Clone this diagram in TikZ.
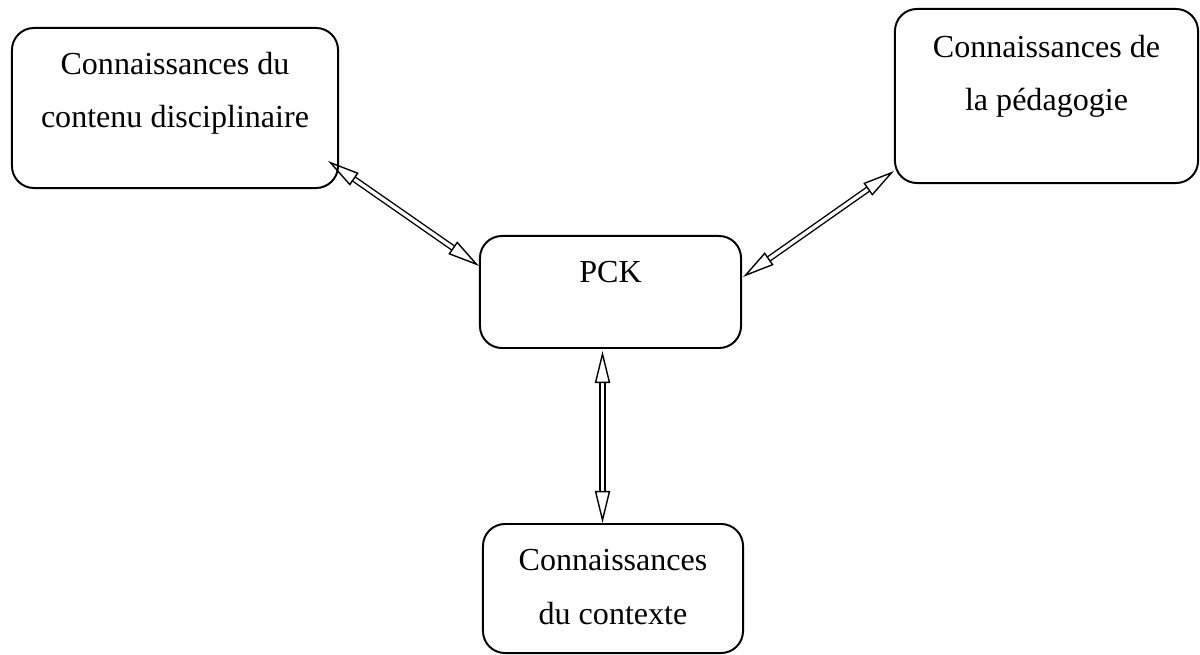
\documentclass[tikz,border=0pt]{standalone}
\usepackage{fontspec}
\setmainfont{Liberation Serif}
\usetikzlibrary{arrows.meta,calc,positioning}
\tikzset{
  box/.style={draw=black,line width=1.4pt,rounded corners=5.5mm,inner sep=0pt},
  lab/.style={font=\fontsize{22.8}{37.7}\selectfont,align=center,anchor=base,inner sep=0pt},
  link/.style={double,double distance=2.4pt,line width=1pt,
               {Triangle[open,length=8mm,width=3.8mm,line width=1pt]}-{Triangle[open,length=8mm,width=3.8mm,line width=1pt]}},
}
\begin{document}
\begin{tikzpicture}[x=0.025cm,y=-0.025cm]
  \path[use as bounding box] (0,0) rectangle (1200,655);

  \node[box,minimum width=8.15cm,minimum height=4cm] (CDC) at (175,108) {};
  \node[box,minimum width=7.575cm,minimum height=4.35cm] (CPED) at (1046.5,96) {};
  \node[box,minimum width=6.525cm,minimum height=2.8cm] (PCK) at (610.5,292) {};
  \node[box,minimum width=6.5cm,minimum height=3.225cm] (CTX) at (613,588.5) {};

  % two-line texts: base is the last line
  \node[lab] (CDCt) at ($(CDC.north)+(0,101)$) {Connaissances du\\contenu disciplinaire};
  \node[lab] (CPEDt) at ($(CPED.north)+(0,103)$) {Connaissances de\\la pédagogie};
  \node[lab] (PCKt) at ($(PCK.north)+(0,47)$) {PCK};
  \node[lab] (CTXt) at ($(CTX.north)+(0,101)$) {Connaissances\\du contexte};

  \coordinate (pb) at ($(PCK.south)+(-8,2)$);
  \draw[link] ($(CDC.south east)+(-11,-28)$) -- ($(PCK.north west)+(0,31)$);
  \draw[link] ($(PCK.north east)+(1,42)$) -- ($(CPED.south west)+(0,-13)$);
  \draw[link] (pb) -- (pb |- CTX.north);
\end{tikzpicture}
\end{document}
